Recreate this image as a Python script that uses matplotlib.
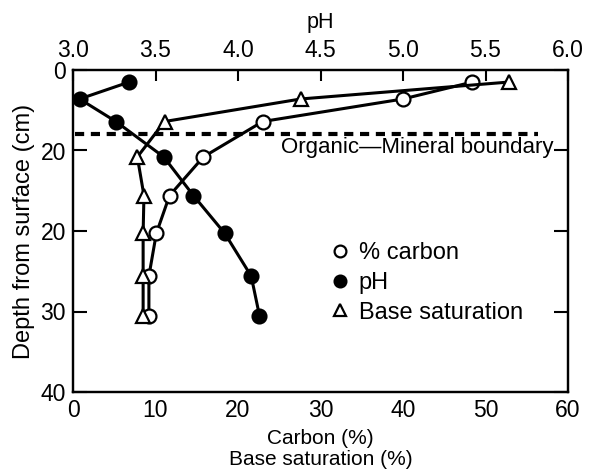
import matplotlib.pyplot as plt
import numpy as np

plt.rcParams['font.family'] = ['Liberation Sans', 'DejaVu Sans']

depth = [1.5, 3.6, 6.4, 10.8, 15.6, 20.3, 25.6, 30.5]
carbon = [48.4, 40.0, 23.0, 15.8, 11.7, 10.1, 9.2, 9.2]
ph = [3.34, 3.04, 3.26, 3.55, 3.73, 3.92, 4.08, 4.13]
base_sat = [52.8, 27.6, 11.1, 7.8, 8.6, 8.5, 8.5, 8.5]

boundary_depth = 8.0
x_ticks = [0, 10, 20, 30, 40, 50, 60]
ph_ticks = [3.0, 3.5, 4.0, 4.5, 5.0, 5.5, 6.0]
y_ticks = [0, 10, 20, 30, 40]
y_ticklabels = ['0', '20', '20', '30', '40']

fig = plt.figure(figsize=(5.96, 4.76), dpi=100)
ax = fig.add_axes([73 / 596, 1 - 392 / 476, (568 - 73) / 596, (392 - 70) / 476])
ax2 = ax.twiny()

line_kw = dict(color='black', lw=2.2, markersize=10, markeredgewidth=1.6,
               clip_on=False, zorder=3)
ax.plot(carbon, depth, marker='o', markerfacecolor='white', label='% carbon', **line_kw)
ax2.plot(ph, depth, marker='o', markerfacecolor='black', label='pH', **line_kw)
ax.plot(base_sat, depth, marker='^', markerfacecolor='white', label='Base saturation', **line_kw)

ax.plot([0.3, 56.4], [boundary_depth, boundary_depth], color='black', lw=3,
        dashes=(2.2, 1.6), zorder=2)
ax.text(58.2, 9.6, 'Organic\u2014Mineral boundary', ha='right', va='center', fontsize=16)

ax.set_xlim(0, 60)
ax.set_ylim(40, 0)
ax2.set_xlim(3.0, 6.0)

ax.set_xticks(x_ticks)
ax.set_yticks(y_ticks)
ax.set_yticklabels(y_ticklabels)
ax2.set_xticks(ph_ticks)
ax2.set_xticklabels(['%.1f' % v for v in ph_ticks])

ax.tick_params(axis='both', direction='in', length=10, width=1.5, labelsize=16.5,
               right=True, pad=5)
ax.tick_params(axis='x', length=0, pad=5)
ax2.tick_params(axis='x', direction='in', length=8, width=1.5, labelsize=16.5, pad=5.5)

for a in (ax, ax2):
    for s in a.spines.values():
        s.set_linewidth(1.6)

ax.set_xlabel('Carbon (%)\nBase saturation (%)', fontsize=15, labelpad=5,
              linespacing=1.15)
ax.set_ylabel('Depth from surface (cm)', fontsize=17, labelpad=4)
ax2.set_xlabel('pH', fontsize=15.5, labelpad=8)

h1, l1 = ax.get_legend_handles_labels()
h2, l2 = ax2.get_legend_handles_labels()
handles = [h1[0], h2[0], h1[1]]
labels = [l1[0], l2[0], l1[1]]
leg = ax.legend(handles, labels, loc='upper left', bbox_to_anchor=(0.52, 0.495),
                frameon=False, fontsize=17, handlelength=0, handletextpad=0.8,
                labelspacing=0.33, markerscale=0.85, borderaxespad=0)

fig.savefig('out.png', dpi=100)
